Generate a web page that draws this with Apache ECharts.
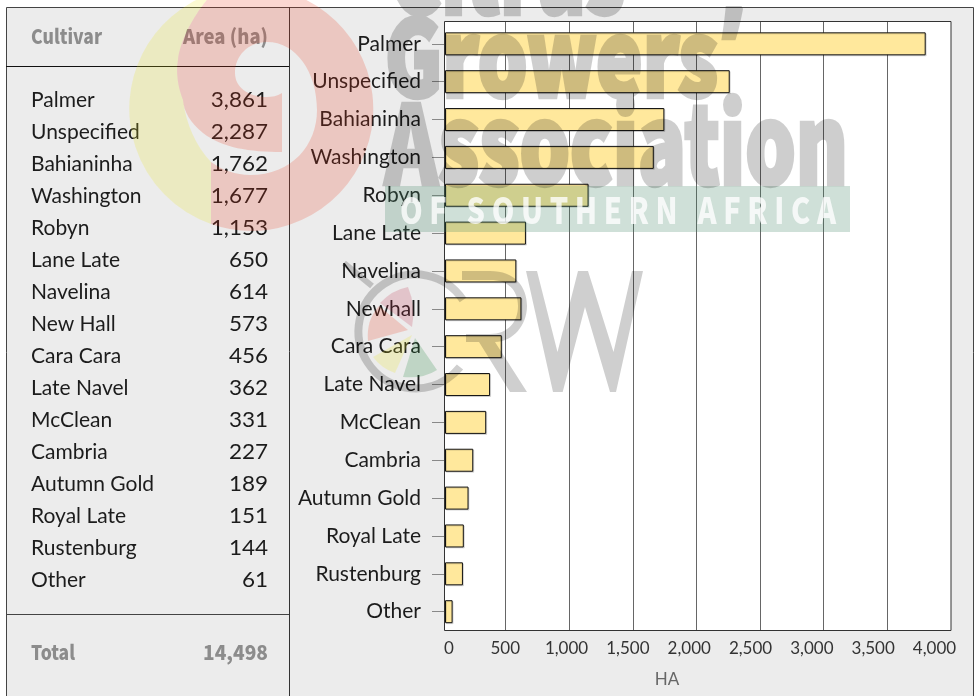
<!DOCTYPE html>
<html><head><meta charset="utf-8">
<style>html,body{margin:0;padding:0;background:#fff}#c{width:978px;height:696px}</style>
<script src="https://cdn.jsdelivr.net/npm/echarts@6/dist/echarts.min.js"></script>
</head><body><div id="c"></div>
<script>
const tableNames = ['Palmer','Unspecified','Bahianinha','Washington','Robyn','Lane Late','Navelina','New Hall','Cara Cara','Late Navel','McClean','Cambria','Autumn Gold','Royal Late','Rustenburg','Other'];
const tableAreas = [3861,2287,1762,1677,1153,650,614,573,456,362,331,227,189,151,144,61];
const tableTotal = 14498;
const categories = ['Palmer','Unspecified','Bahianinha','Washington','Robyn','Lane Late','Navelina','Newhall','Cara Cara','Late Navel','McClean','Cambria','Autumn Gold','Royal Late','Rustenburg','Other'];
const barValues = [3861,2287,1762,1677,1153,650,573,614,456,362,331,227,189,151,144,61];

const TXT='#1c1c1c', FONT='Lato', HEAVY='Noto Sans CJK SC';
const fmt=v=>v.toLocaleString('en-US');
const ctx=document.createElement('canvas').getContext('2d');
function fit(t,font,w){ctx.font=font;return w/ctx.measureText(t).width;}
function txt(t,x,y,size,o={}){return {type:'text',x,y,z:o.z||5,scaleX:o.sx||1,style:{text:t,fill:o.fill||TXT,font:(o.weight||'400')+' '+size+'px "'+(o.family||FONT)+'"',align:o.align||'left',verticalAlign:'middle',textAlign:o.align||'left',textVerticalAlign:'middle'}};}
function head(t,x,y,w,align){const f='900 20px "'+HEAVY+'"';return txt(t,x,y,20,{weight:'900',family:HEAVY,fill:'#8c8c8c',align,sx:fit(t,f,w)});}
function ln(x1,y1,x2,y2,c){return {type:'line',z:1,shape:{x1,y1,x2,y2},style:{stroke:c,lineWidth:1}};}

const g=[];
g.push({type:'rect',z:-5,shape:{x:6.5,y:7.5,width:967,height:700},style:{fill:'#ececec',stroke:'#444',lineWidth:1}});
g.push({type:'rect',z:-4,shape:{x:444.5,y:21.5,width:506.5,height:609},style:{fill:'#fff'}});
g.push({type:'rect',z:3,shape:{x:444.5,y:21.5,width:506.5,height:609},style:{fill:'none',stroke:'#333',lineWidth:1}});
g.push(ln(289.5,7,289.5,696,'#333'),ln(6,66.5,289,66.5,'#111'),ln(6,614.5,289,614.5,'#444'));
g.push(head('Cultivar',31,36,71,'left'),head('Area (ha)',268,36,85,'right'));
tableNames.forEach((n,i)=>{g.push(txt(n,31,100.5+32*i,21),txt(fmt(tableAreas[i]),268,100.5+32*i,21,{align:'right',sx:1.07}));});
g.push(head('Total',31,652,44,'left'),head(fmt(tableTotal),268,652,65,'right'));
g.push(txt('HA',667,680,17,{fill:'#666',align:'center'}));

// watermark
const Z=50, GREY='rgba(0,0,0,0.19)', RED='rgba(236,56,26,0.2)', YEL='rgba(236,231,26,0.2)';
const marks=[];
function path(d,o){marks.push({type:'path',shape:{pathData:d},style:o});}
function wm(t,font,x,y,w,fill){return {type:'text',z:Z+1,x,y,scaleX:fit(t,font,w),style:{text:t,fill,font,align:'left',verticalAlign:'middle',textAlign:'left',textVerticalAlign:'middle'}};}
// heavy title: opaque fill + stroke on its own layer, which gets one uniform opacity below
function wmHeavy(t,font,x,y,w){const el=wm(t,font,x,y,w,'#000');el.zlevel=2;el.z=1;el.style.stroke='#000';el.style.lineWidth=4.5;el.style.lineJoin='round';return el;}
path('M213 -7 A122 122 0 0 0 211 224 L211 162 C196 146 186 124 183 100 C177 85 176 70 178 60 C180 40 195 12 213 -7 Z',{fill:YEL});
path('M213 -7 A122 122 0 1 1 211 224 L211 162 C222 170 236 175 250 175 C292 175 317 145 317 110 C317 72 296 42 267 42 C248 42 235 56 235 73 C235 87 248 97 267 97 C272 97 277 96 282 93 L282 152 C250 152 222 148 203 133 C190 122 184 112 183 100 C177 85 176 70 178 60 C180 40 195 12 213 -7 Z',{fill:RED});
const wf='900 105px "'+HEAVY+'"', af='900 108px "'+HEAVY+'"', bf='900 36px "'+HEAVY+'"', bt='O F   S O U T H E R N   A F R I C A', qf='800 105px "Open Sans"';
g.push(wmHeavy('Citrus',wf,390,-26,235),wmHeavy('Growers',wf,385,57,333),wmHeavy('\u2019',qf,722,53,20),wmHeavy('Association',af,385,143,463));
path('M385 186 H850 V232 H385 Z',{fill:'rgba(63,131,99,0.25)'});
g.push(wm(bt,bf,400,210,436,'rgba(255,255,255,0.78)'));
// CRW mark
path('M463 300 A57 57 0 1 0 460 367',{fill:'none',stroke:GREY,lineWidth:8});
path('M344 263 L372 286',{fill:'none',stroke:GREY,lineWidth:6});
path('M462 271 H490 C515 271 527 287 527 306 C527 325 513 342 495 342 L527 392 L510 392 L479 342 H466 V334 H490 C508 334 518 322 518 306 C518 290 508 280 490 280 H462 Z',{fill:GREY});
path('M526 271 H537 L557.5 352 L578 271 H588 L613.5 352 L632 271 H643 L616 392 H610 L585 307 L562.7 392 H553 Z',{fill:GREY});
path('M412 327 L380 303 Q392 290 408 287 Q416 306 412 327 Z',{fill:'rgba(190,40,70,0.2)'});
path('M408 330 L368 341 Q366 320 379 306 Z',{fill:RED});
path('M412 335 L373 357 Q381 368 395 373 Z',{fill:YEL});
path('M415 338 L403 377 Q423 379 437 370 Z',{fill:'rgba(30,130,60,0.22)'});

const hiddenY=i=>({type:'category',gridIndex:i,data:categories,inverse:true,show:false});
const option={
 animation:false,
 backgroundColor:'#fff',
 graphic:{elements:g},
 grid:[
  {left:442,top:21.5,width:508.8,height:609},
  {left:445,top:24.9,width:498,height:605.7},
  {left:443.9,top:21.5,width:490.6,height:609}
 ],
 xAxis:[
  {type:'value',gridIndex:0,min:0,max:4000,interval:500,axisLine:{show:false},axisTick:{show:false},axisLabel:{show:false},
   splitLine:{show:true,showMinLine:false,showMaxLine:false,lineStyle:{color:'#666',width:1}}},
  {type:'value',gridIndex:1,min:0,max:4000,axisLine:{show:false},axisTick:{show:false},axisLabel:{show:false},splitLine:{show:false}},
  {type:'value',gridIndex:2,min:0,max:4000,interval:500,axisLine:{show:false},axisTick:{show:false},splitLine:{show:false},
   axisLabel:{show:true,margin:10,color:'#333',fontFamily:FONT,fontSize:17,alignMinLabel:'left',formatter:v=>fmt(v)}}
 ],
 yAxis:[
  hiddenY(0),
  {type:'category',gridIndex:1,data:categories,inverse:true,axisLine:{show:false},
   axisTick:{show:true,alignWithLabel:true,length:13,lineStyle:{color:'#888',width:1}},
   axisLabel:{margin:24,interval:0,color:TXT,fontFamily:FONT,fontSize:21},splitLine:{show:false}},
  hiddenY(2)
 ],
 series:[
  {type:'bar',xAxisIndex:1,yAxisIndex:1,data:barValues,barWidth:23,z:2,
   itemStyle:{color:'#ffe89c',borderColor:'#111',borderWidth:1,shadowColor:'rgba(0,0,0,0.12)',shadowOffsetX:1,shadowOffsetY:1}},
  {type:'custom',coordinateSystem:'none',data:[0],z:Z,silent:true,clip:false,
   renderItem:()=>({type:'group',children:marks})}
 ]
};
echarts.init(document.getElementById('c'),null,{renderer:'canvas'}).setOption(option);
const titleLayer=document.querySelector('canvas[data-zr-dom-id="zr_2"]');
if(titleLayer)titleLayer.style.opacity='0.19';
</script></body></html>
